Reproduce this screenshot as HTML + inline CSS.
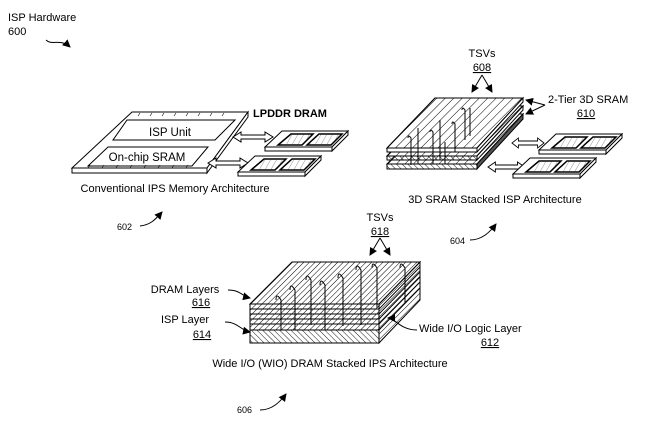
<!DOCTYPE html>
<html><head><meta charset="utf-8"><style>
html,body{margin:0;padding:0;background:#fff;}
svg{display:block;}
text{font-family:"Liberation Sans",sans-serif;font-size:11px;fill:#000;}
</style></head><body>
<svg width="667" height="436" viewBox="0 0 667 436" xmlns="http://www.w3.org/2000/svg">
<defs>
<pattern id="h1" width="6" height="6" patternUnits="userSpaceOnUse" patternTransform="rotate(45)"><line x1="0" y1="0" x2="0" y2="6" stroke="#000" stroke-width="1"/></pattern>
<pattern id="h2" width="4" height="4" patternUnits="userSpaceOnUse" patternTransform="rotate(45)"><line x1="0" y1="0" x2="0" y2="4" stroke="#000" stroke-width="1"/></pattern>
<pattern id="h3" width="4" height="4" patternUnits="userSpaceOnUse" patternTransform="rotate(-45)"><line x1="0" y1="0" x2="0" y2="4" stroke="#000" stroke-width="0.9"/></pattern>
<pattern id="hc" width="5" height="5" patternUnits="userSpaceOnUse" patternTransform="rotate(30)"><line x1="0" y1="0" x2="0" y2="5" stroke="#666" stroke-width="0.7"/></pattern>
<marker id="ah" markerUnits="userSpaceOnUse" markerWidth="8" markerHeight="8" refX="7" refY="4" orient="auto"><path d="M0,0 L8,4 L0,8 z" fill="#000"/></marker>
<g id="darr"><polygon points="0,0 8,-5 8,-2 32,-2 32,-5 40,0 32,5 32,2 8,2 8,5" fill="#fff" stroke="#000" stroke-width="1"/></g>
<g id="mod" stroke="#000" stroke-width="1">
<polygon points="282,131 348,131 332,147 265,147" fill="#fff"/>
<polygon points="265,147 332,147 332,151 265,151" fill="#fff"/>
<polygon points="332,147 348,131 348,135 332,151" fill="#fff"/>
<polygon points="291,134 313,134 302,145 278,145" fill="#fff" stroke-width="1.5"/>
<polygon points="291,134 313,134 302,145 278,145" fill="url(#hc)"/>
<polygon points="319,134 342,134 331,145 307,145" fill="#fff" stroke-width="1.5"/>
<polygon points="319,134 342,134 331,145 307,145" fill="url(#hc)"/>
</g>
</defs>
<g stroke="#000" stroke-width="1" fill="none">
<path d="M46,40 C52,46 60,38 70,47" marker-end="url(#ah)"/>
<polygon points="132,112 248,112 207,168 72,168" fill="#fff"/>
<polygon points="72,168 207,168 207,173 72,173" fill="#fff"/>
<polygon points="207,168 248,112 248,117 207,173" fill="#fff"/>
<polygon points="127,120 235,120 215,140 113,140" fill="#fff"/>
<polygon points="108,147 208,147 192,166 88,166" fill="#fff"/>
<path d="M140,113 l-2,3 M152,113 l-2,3 M164,113 l-2,3 M176,113 l-2,3 M188,113 l-2,3 M200,113 l-2,3 M212,113 l-2,3 M224,113 l-2,3 M90,165 l-2,3 M104,165 l-2,3 M118,165 l-2,3 M132,165 l-2,3 M146,165 l-2,3 M160,165 l-2,3 M174,165 l-2,3 M188,165 l-2,3" stroke-width="0.6"/>
</g>
<use href="#darr" transform="translate(233,137)"/>
<use href="#darr" transform="translate(208,163)"/>
<use href="#mod"/>
<use href="#mod" transform="translate(-27,25)"/>
<g stroke="#000" stroke-width="1" fill="none">
<polygon points="435,114 523,114 477,164 387,164" fill="url(#h1)"/>
<polygon points="387,164 477,164 477,169 387,169" fill="url(#h3)"/>
<polygon points="477,164 523,114 523,119 477,169" fill="#555"/>
<polygon points="435,106 523,106 477,156 387,156" fill="#fff"/>
<polygon points="435,106 523,106 477,156 387,156" fill="url(#h1)"/>
<polygon points="387,156 477,156 477,160 387,160" fill="url(#h3)"/>
<polygon points="477,156 523,106 523,110 477,160" fill="#fff"/>
<polygon points="435,98 523,98 477,148 387,148" fill="#fff"/>
<polygon points="435,98 523,98 477,148 387,148" fill="url(#h1)"/>
<polygon points="387,148 477,148 477,152 387,152" fill="#fff"/>
<polygon points="477,148 523,98 523,102 477,152" fill="#fff"/>
<path d="M408,138 q0,-4 3,0 v27 M418,128 v36 M430,132 q0,-4 3,0 v32 M440,120 v40 M452,124 q0,-4 3,0 v28 M462,110 q0,-4 3,0 v30 M470,108 v28 M445,142 v22" />
</g>
<use href="#darr" transform="translate(512,143) scale(0.8,1)"/>
<use href="#darr" transform="translate(488,167) scale(0.92,1)"/>
<use href="#mod" transform="translate(274,3)"/>
<use href="#mod" transform="translate(248,27)"/>
<g stroke="#000" stroke-width="1" fill="none">
<path d="M482,75 L472,92" marker-end="url(#ah)"/>
<path d="M482,75 L492,92" marker-end="url(#ah)"/>
<path d="M545,105 L526,100" marker-end="url(#ah)"/>
<path d="M545,105 L526,114" marker-end="url(#ah)"/>
<polygon points="292,262 420,262 379,304 250,304" fill="url(#h2)"/>
<rect x="250" y="304" width="129" height="39" fill="#fff"/>
<rect x="250" y="304" width="129" height="39" fill="url(#h2)"/>
<path d="M250,309 h129 M250,314 h129 M250,319 h129 M250,324 h129 M250,330 h129"/>
<rect x="250" y="330" width="129" height="13" fill="#fff"/>
<rect x="250" y="330" width="129" height="13" fill="url(#h3)"/>
<polygon points="379,304 420,262 420,300 379,343" fill="url(#h2)"/>
<path d="M379,309 L420,267 M379,314 L420,272 M379,319 L420,277 M379,324 L420,282 M379,330 L420,288"/>
<path d="M276,300 q0,-8 5,0 v30 M290,290 q0,-8 5,0 v40 M306,280 q0,-8 5,0 v45 M320,285 q0,-8 5,0 v45 M338,278 q0,-8 5,0 v48 M356,270 q0,-8 5,0 v55 M372,268 q0,-8 5,0 v40 M400,268 q0,-8 5,0 v35"/>
<path d="M380,238 L370,255" marker-end="url(#ah)"/>
<path d="M380,238 L390,255" marker-end="url(#ah)"/>
<path d="M228,290 C240,290 242,296 250,298" marker-end="url(#ah)"/>
<path d="M225,322 C238,322 240,330 250,332" marker-end="url(#ah)"/>
<path d="M417,330 C400,330 395,318 388,318" marker-end="url(#ah)"/>
<path d="M140,226 C150,225 155,220 162,212" marker-end="url(#ah)"/>
<path d="M470,240 C482,240 490,232 496,224" marker-end="url(#ah)"/>
<path d="M260,410 C272,410 280,402 286,394" marker-end="url(#ah)"/>
</g>
<text x="8" y="21">ISP Hardware</text>
<text x="8" y="35">600</text>
<text x="170" y="136" text-anchor="middle" style="font-size:11.5px">ISP Unit</text>
<text x="147" y="161" text-anchor="middle" style="font-size:11.5px">On-chip SRAM</text>
<text x="290" y="117" text-anchor="middle" style="font-weight:bold;font-size:11px">LPDDR DRAM</text>
<text x="175" y="192" text-anchor="middle">Conventional IPS Memory Architecture</text>
<text x="482" y="57" text-anchor="middle">TSVs</text>
<text x="482" y="71" text-anchor="middle" text-decoration="underline">608</text>
<text x="548" y="103">2-Tier 3D SRAM</text>
<text x="586" y="117" text-anchor="middle" text-decoration="underline">610</text>
<text x="495" y="203" text-anchor="middle">3D SRAM Stacked ISP Architecture</text>
<text x="117" y="230" style="font-size:9px">602</text>
<text x="450" y="244" style="font-size:9px">604</text>
<text x="237" y="413" style="font-size:9px">606</text>
<text x="380" y="221" text-anchor="middle">TSVs</text>
<text x="380" y="235" text-anchor="middle" text-decoration="underline">618</text>
<text x="185" y="293" text-anchor="middle">DRAM Layers</text>
<text x="201" y="306" text-anchor="middle" text-decoration="underline">616</text>
<text x="185" y="323" text-anchor="middle">ISP Layer</text>
<text x="202" y="338" text-anchor="middle" text-decoration="underline">614</text>
<text x="419" y="332">Wide I/O Logic Layer</text>
<text x="490" y="346" text-anchor="middle" text-decoration="underline">612</text>
<text x="330" y="367" text-anchor="middle">Wide I/O (WIO) DRAM Stacked IPS Architecture</text>
</svg>
</body></html>
